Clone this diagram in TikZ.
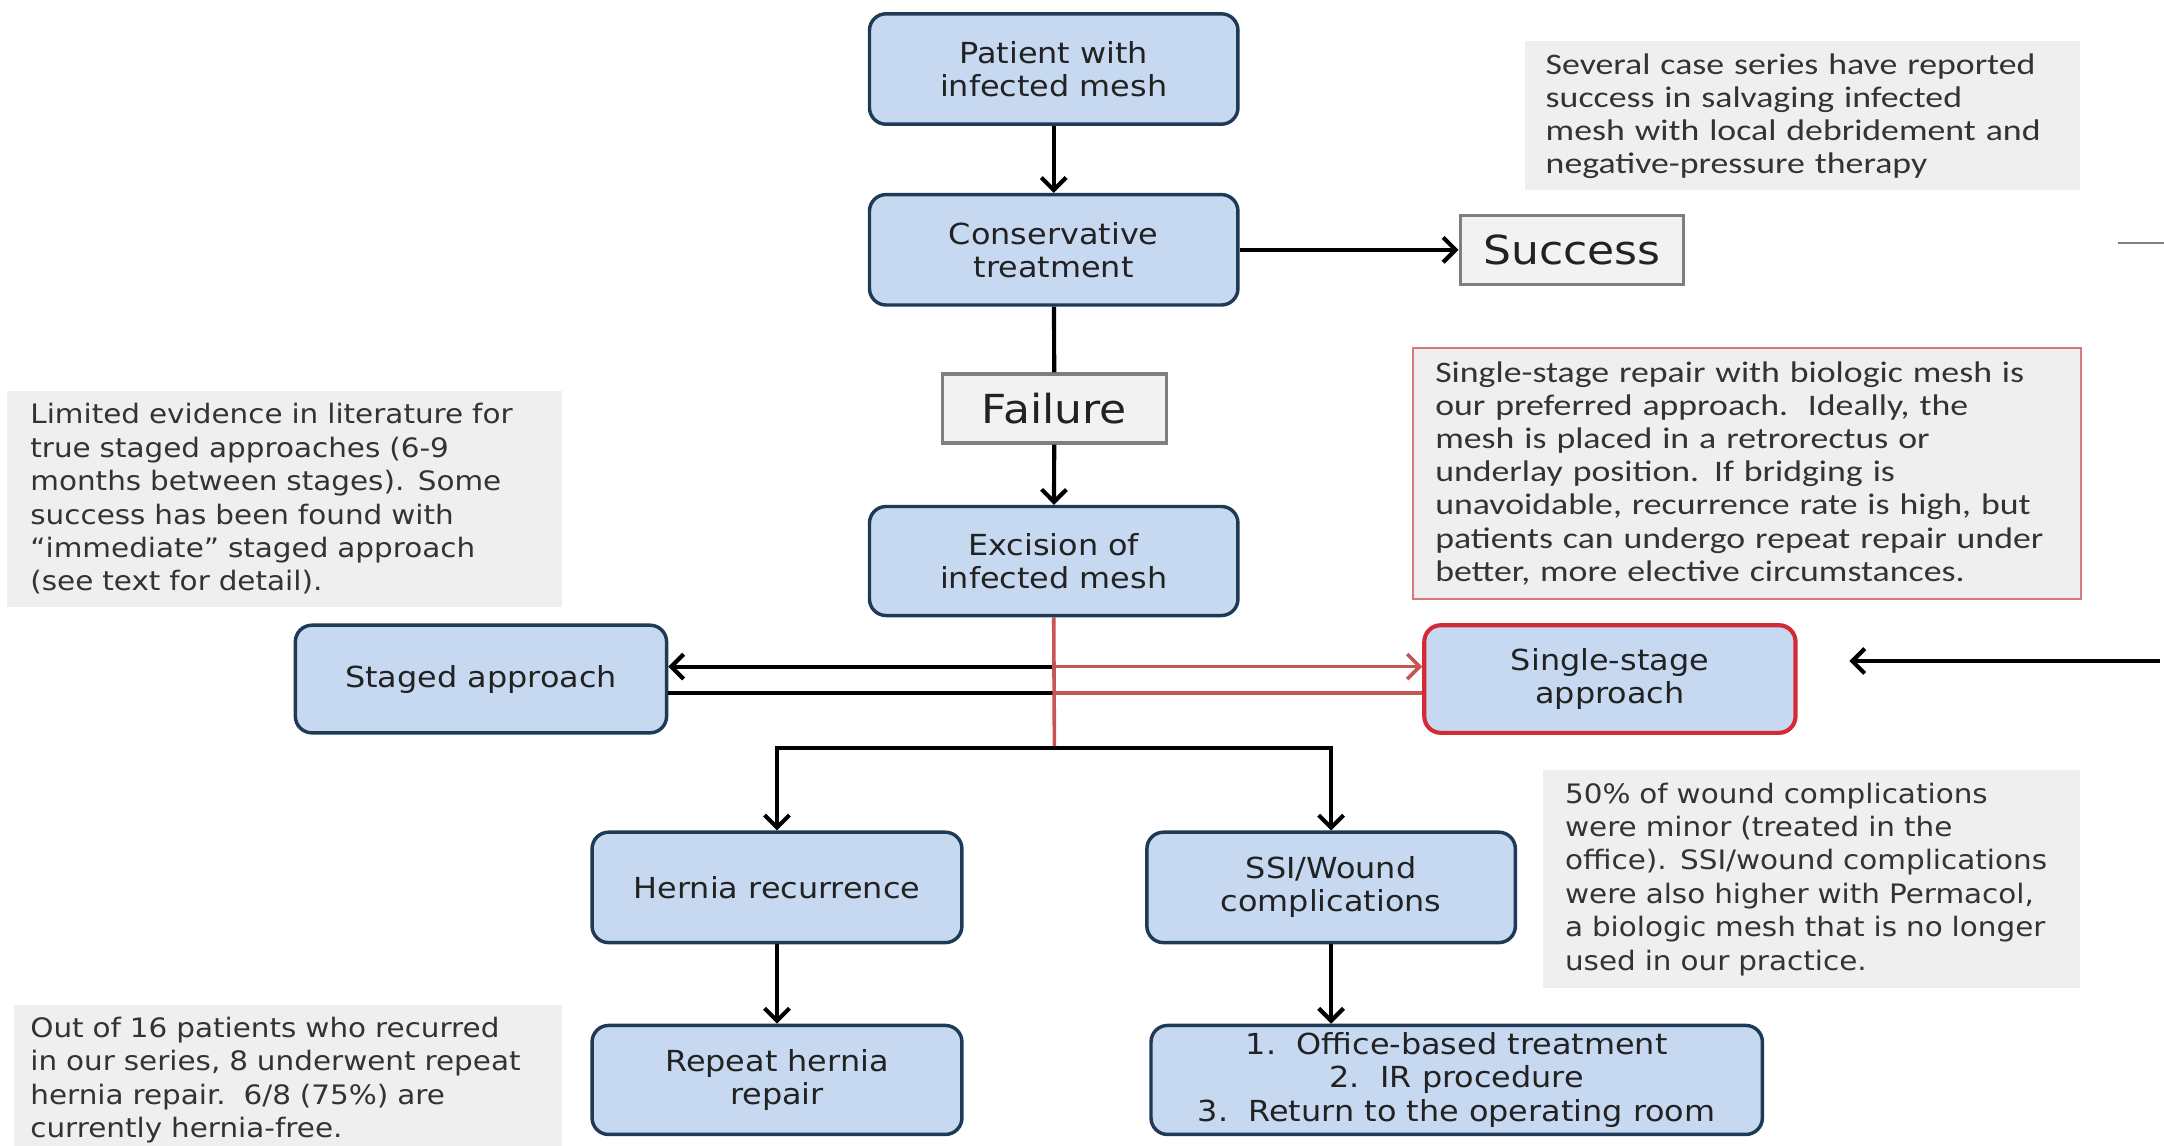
\documentclass[tikz,border=0pt]{standalone}
\usepackage{fontspec}
\setmainfont{DejaVu Sans}
\newfontfamily\vfont[FakeStretch=1.1]{DejaVu Sans}
\newfontfamily\cfont[FakeStretch=1.2]{Carlito}
\usetikzlibrary{arrows.meta}
\definecolor{boxblue}{HTML}{C6D9F1}
\definecolor{navyline}{HTML}{1F3A56}
\definecolor{boxtext}{HTML}{222222}
\definecolor{greyfill}{HTML}{F2F2F2}
\definecolor{greyline}{HTML}{7F7F7F}
\definecolor{notefill}{HTML}{EFEFEF}
\definecolor{notetext}{HTML}{333333}
\definecolor{redbox}{HTML}{D42A35}
\definecolor{rednote}{HTML}{D47A7A}
\definecolor{redline}{HTML}{C85555}
\tikzset{
  flow/.style={draw=navyline, line width=1.25pt, fill=boxblue, rounded corners=6pt,
    align=center, inner sep=0pt, text=boxtext,
    font=\vfont\fontsize{10.5}{12}\selectfont},
  redflow/.style={flow, draw=redbox, line width=1.5pt},
  greybox/.style={draw=greyline, line width=1.2pt, fill=greyfill, inner sep=0pt,
    text=boxtext, minimum width=81pt, minimum height=25pt,
    font=\vfont\fontsize{14.5}{16}\selectfont},
  vnote/.style={fill=notefill, align=left, inner ysep=0pt, text=notetext,
    font=\vfont\fontsize{9.7}{12.1}\selectfont},
  cnote/.style={fill=notefill, align=left, inner ysep=0pt, text=notetext,
    font=\cfont\fontsize{10.8}{12}\selectfont},
  conn/.style={line width=1.5pt, draw=black},
  arr/.style={conn, -{Straight Barb[length=4.5pt,width=9pt]}},
  redconn/.style={line width=1.3pt, draw=redline},
  redarr/.style={redconn, -{Straight Barb[length=4.5pt,width=9pt]}}
}
\begin{document}
\begin{tikzpicture}[x=0.5pt, y=-0.5pt]
\useasboundingbox (0,0) rectangle (1568,830);
\fill[white] (0,0) rectangle (1568,830);

% notes
\node[cnote, minimum width=201pt, minimum height=54pt, inner xsep=7.5pt, text width=186pt] (topnote) at (1306,84)
 {Several case series have reported\\success in salvaging infected\\mesh with local debridement and\\negative-pressure therapy};
\node[vnote, minimum width=201pt, minimum height=78.5pt, inner xsep=8.5pt, text width=184pt] (leftnote) at (206,361.5)
 {Limited evidence in literature for\\true staged approaches (6-9\\months between stages). Some\\success has been found with\\“immediate” staged approach\\(see text for detail).};
\node[cnote, draw=rednote, line width=0.8pt, minimum width=242pt, minimum height=91pt, inner xsep=8pt, text width=226pt] (rednt) at (1266,343)
 {Single-stage repair with biologic mesh is\\our preferred approach.\ \ Ideally, the\\mesh is placed in a retrorectus or\\underlay position. If bridging is\\unavoidable, recurrence rate is high, but\\patients can undergo repeat repair under\\better, more elective circumstances.};
\node[vnote, minimum width=194.5pt, minimum height=79pt, inner xsep=8pt, text width=178.5pt] (woundnote) at (1312.5,637)
 {50\% of wound complications\\were minor (treated in the\\office). SSI/wound complications\\were also higher with Permacol,\\a biologic mesh that is no longer\\used in our practice.};
\node[vnote, minimum width=198.5pt, minimum height=54.5pt, inner xsep=6pt, text width=186.5pt] (botnote) at (208.5,782.5)
 {Out of 16 patients who recurred\\in our series, 8 underwent repeat\\hernia repair.\ \ 6/8 (75\%) are\\currently hernia-free.};

% flow boxes
\node[flow, minimum width=133.5pt, minimum height=40pt] (pat) at (763.5,50) {Patient with\\infected mesh};
\node[flow, minimum width=133.5pt, minimum height=40pt] (con) at (763.5,181) {Conservative\\treatment};
\node[greybox] (succ) at (1139,181) {Success};
\node[greybox] (fail) at (764,296) {Failure};
\node[flow, minimum width=133.5pt, minimum height=39.5pt] (exc) at (763.5,406.5) {Excision of\\infected mesh};
\node[flow, minimum width=134.5pt, minimum height=39pt] (stg) at (348.5,492) {Staged approach};
\node[redflow, minimum width=134.5pt, minimum height=39pt] (sng) at (1166.5,492) {Single-stage\\approach};
\node[flow, minimum width=134pt, minimum height=40pt] (hr) at (563,643) {Hernia recurrence};
\node[flow, minimum width=133.5pt, minimum height=40pt] (ssi) at (964.5,643) {SSI/Wound\\complications};
\node[flow, minimum width=134pt, minimum height=39.5pt] (rep) at (563,782.5) {Repeat hernia\\repair};
\node[flow, minimum width=221.5pt, minimum height=39.5pt] (lst) at (1055.5,782.5)
 {1.\ \ Office-based treatment\\2.\ \ IR procedure\\3.\ \ Return to the operating room};

% connectors
\draw[arr] (pat) -- (con);
\draw[conn] (con) -- (fail);
\draw[arr] (fail) -- (exc);
\draw[arr] (con) -- (succ);

\coordinate (jU) at (764,483);
\coordinate (jL) at (764,502);
\coordinate (bar) at (764,542);
\draw[arr] (jU) -- (jU -| stg.east);
\draw[conn] (jL -| stg.east) -- (jL);
\draw[redarr] (jU) -- (jU -| sng.west);
\draw[redconn] (jL) -- (jL -| sng.west);
\draw[redconn] (exc.south) -- (bar);
\draw[arr] (bar) -| (hr.north);
\draw[arr] (bar) -| (ssi.north);
\draw[arr] (hr) -- (rep);
\draw[arr] (ssi.south) -- (ssi.south |- lst.north);

\coordinate (ra1) at (1565,479);
\coordinate (ra2) at (1340,479);
\draw[arr] (ra1) -- (ra2);

\coordinate (gl1) at (1535,176);
\coordinate (gl2) at (1568,176);
\draw[greyline, line width=0.6pt] (gl1) -- (gl2);
\end{tikzpicture}
\end{document}
